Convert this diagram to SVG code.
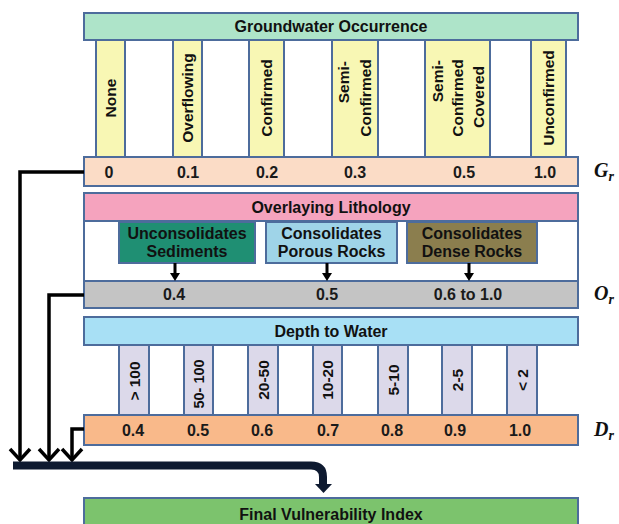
<svg xmlns="http://www.w3.org/2000/svg" width="619" height="524" viewBox="0 0 619 524">
<defs>
<style>
.box{stroke:#4d6c9c;stroke-width:2}
.hd{font-family:"Liberation Sans",Arial,sans-serif;font-weight:bold;font-size:16px;text-anchor:middle;fill:#111}
.val{font-family:"Liberation Sans",Arial,sans-serif;font-weight:bold;font-size:16px;text-anchor:middle;fill:#1a1a1a}
.col{font-family:"Liberation Sans",Arial,sans-serif;font-weight:bold;font-size:15.5px;fill:#111}
.sym{font-family:"Liberation Serif","Times New Roman",serif;font-weight:bold;font-style:italic;font-size:20px;fill:#111}
.sub{font-size:14px}
.hv{fill:none;stroke:#000;stroke-width:3.5;stroke-linejoin:miter}
.vh{fill:none;stroke:#000;stroke-width:3.5}
</style>
</defs>
<rect width="619" height="524" fill="#fff"/>

<g id="groundwater">
<rect class="box" x="84" y="13" width="494" height="27" fill="#aee4c9"/>
<text class="hd" x="331" y="32">Groundwater Occurrence</text>
<rect class="box" x="96" y="40" width="29" height="117" fill="#f8f7b4"/>
<rect class="box" x="125" y="40" width="48" height="117" fill="#fff"/>
<rect class="box" x="173" y="40" width="29" height="117" fill="#f8f7b4"/>
<rect class="box" x="202" y="40" width="47" height="117" fill="#fff"/>
<rect class="box" x="249" y="40" width="35" height="117" fill="#f8f7b4"/>
<rect class="box" x="284" y="40" width="48" height="117" fill="#fff"/>
<rect class="box" x="332" y="40" width="46" height="117" fill="#f8f7b4"/>
<rect class="box" x="378" y="40" width="47" height="117" fill="#fff"/>
<rect class="box" x="425" y="40" width="65" height="117" fill="#f8f7b4"/>
<rect class="box" x="490" y="40" width="41" height="117" fill="#fff"/>
<rect class="box" x="531" y="40" width="35" height="117" fill="#f8f7b4"/>
<text class="col" text-anchor="middle" transform="translate(116,98) rotate(-90)">None</text>
<text class="col" text-anchor="middle" transform="translate(193,98) rotate(-90)">Overflowing</text>
<text class="col" text-anchor="middle" transform="translate(272,98) rotate(-90)">Confirmed</text>
<text class="col" text-anchor="end" transform="translate(348.5,61) rotate(-90)">Semi-</text>
<text class="col" text-anchor="middle" transform="translate(370.5,98) rotate(-90)">Confirmed</text>
<text class="col" text-anchor="end" transform="translate(442.5,60) rotate(-90)">Semi-</text>
<text class="col" text-anchor="middle" transform="translate(462.5,98) rotate(-90)">Confirmed</text>
<text class="col" text-anchor="middle" transform="translate(483.5,97) rotate(-90)">Covered</text>
<text class="col" text-anchor="middle" transform="translate(554,98) rotate(-90)">Unconfirmed</text>
</g>

<g id="gr-band">
<rect class="box" x="84" y="157" width="494" height="29" fill="#fbdcc6"/>
<text class="val" x="109" y="178">0</text>
<text class="val" x="188" y="178">0.1</text>
<text class="val" x="267" y="178">0.2</text>
<text class="val" x="355" y="178">0.3</text>
<text class="val" x="464" y="178">0.5</text>
<text class="val" x="545" y="178">1.0</text>
<text class="sym" x="594" y="177">G<tspan class="sub" dy="4">r</tspan></text>
</g>

<g id="lithology">
<rect class="box" x="84" y="221" width="494" height="60" fill="#fff"/>
<rect class="box" x="84" y="193" width="494" height="28" fill="#f5a3be"/>
<text class="hd" x="331" y="213">Overlaying Lithology</text>
<rect class="box" x="119" y="222" width="136" height="41" fill="#1f8f73"/>
<text class="hd" x="187" y="239">Unconsolidates</text>
<text class="hd" x="187" y="257">Sediments</text>
<rect class="box" x="266" y="222" width="131" height="41" fill="#9fd4e8"/>
<text class="hd" x="331.5" y="239">Consolidates</text>
<text class="hd" x="331.5" y="257">Porous Rocks</text>
<rect class="box" x="407" y="222" width="130" height="41" fill="#8b7e4e"/>
<text class="hd" x="472" y="239">Consolidates</text>
<text class="hd" x="472" y="257">Dense Rocks</text>
</g>

<g id="or-band">
<rect class="box" x="84" y="281" width="494" height="27" fill="#c4c4c4"/>
<text class="val" x="174" y="300">0.4</text>
<text class="val" x="327" y="300">0.5</text>
<text class="val" x="468" y="300">0.6 to 1.0</text>
<text class="sym" x="594" y="300">O<tspan class="sub" dy="4">r</tspan></text>
</g>

<g id="depth">
<rect class="box" x="84" y="317" width="494" height="28" fill="#a8e0f5"/>
<text class="hd" x="331" y="337">Depth to Water</text>
<rect class="box" x="119" y="345" width="30" height="70" fill="#dcd9ea"/>
<rect class="box" x="184" y="345" width="29" height="70" fill="#dcd9ea"/>
<rect class="box" x="248" y="345" width="30" height="70" fill="#dcd9ea"/>
<rect class="box" x="313" y="345" width="29" height="70" fill="#dcd9ea"/>
<rect class="box" x="378" y="345" width="30" height="70" fill="#dcd9ea"/>
<rect class="box" x="442" y="345" width="30" height="70" fill="#dcd9ea"/>
<rect class="box" x="507" y="345" width="30" height="70" fill="#dcd9ea"/>
<text class="col" text-anchor="middle" transform="translate(139.5,381) rotate(-90)">&gt; 100</text>
<text class="col" text-anchor="middle" textLength="49" lengthAdjust="spacingAndGlyphs" transform="translate(204,384) rotate(-90)">50- 100</text>
<text class="col" text-anchor="middle" transform="translate(268.5,380) rotate(-90)">20-50</text>
<text class="col" text-anchor="middle" transform="translate(333,380) rotate(-90)">10-20</text>
<text class="col" text-anchor="middle" transform="translate(398.5,380) rotate(-90)">5-10</text>
<text class="col" text-anchor="middle" transform="translate(462.5,380) rotate(-90)">2-5</text>
<text class="col" text-anchor="middle" transform="translate(527.5,380) rotate(-90)">&lt; 2</text>
</g>

<g id="dr-band">
<rect class="box" x="84" y="415" width="494" height="30" fill="#f9b98a"/>
<text class="val" x="133" y="436">0.4</text>
<text class="val" x="198" y="436">0.5</text>
<text class="val" x="262" y="436">0.6</text>
<text class="val" x="328" y="436">0.7</text>
<text class="val" x="392" y="436">0.8</text>
<text class="val" x="455" y="436">0.9</text>
<text class="val" x="520" y="436">1.0</text>
<text class="sym" x="594" y="436">D<tspan class="sub" dy="4">r</tspan></text>
</g>

<g id="final">
<rect class="box" x="84" y="498" width="494" height="32" fill="#7cc36d"/>
<text class="hd" x="331" y="520">Final Vulnerability Index</text>
</g>

<g id="connectors">
<path d="M175,263 V274" stroke="#000" stroke-width="3" fill="none"/>
<path d="M170,273 L180,273 L175,281 Z" fill="#000"/>
<path d="M327,263 V274" stroke="#000" stroke-width="3" fill="none"/>
<path d="M322,273 L332,273 L327,281 Z" fill="#000"/>
<path d="M469,263 V274" stroke="#000" stroke-width="3" fill="none"/>
<path d="M464,273 L474,273 L469,281 Z" fill="#000"/>
<path class="hv" d="M84,172 H20 V460"/>
<path class="vh" d="M10,449 L20,460 L30,449"/>
<path class="hv" d="M84,295 H49 V460"/>
<path class="vh" d="M39,449 L49,460 L59,449"/>
<path class="hv" d="M84,429 H72 V460" stroke-width="2.5"/>
<path class="vh" d="M62,449 L72,460 L82,449"/>
<path d="M13,465.5 H311 Q323,465.5 323,477 V485" fill="none" stroke="#0e1a30" stroke-width="8"/>
<path d="M315,484 L332,484 L323.5,493 Z" fill="#0e1a30"/>
</g>
</svg>
